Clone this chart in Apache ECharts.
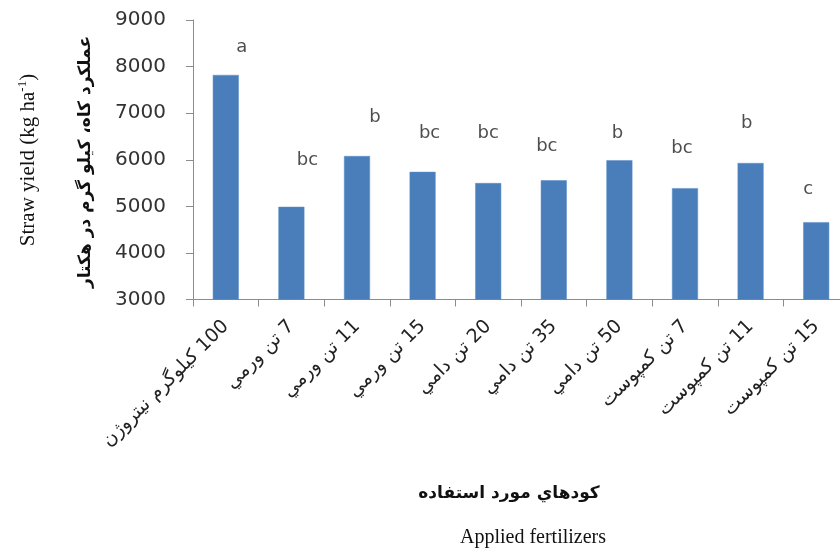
<!DOCTYPE html>
<html>
<head>
<meta charset="utf-8">
<script src="https://cdn.jsdelivr.net/npm/echarts@6/dist/echarts.min.js"></script>
<style>
html,body{margin:0;padding:0;background:#fff;}
#c{width:840px;height:548px;}
</style>
</head>
<body>
<div id="c"></div>
<script>
const RLE = '\u202B', PDF = '\u202C';
const categories = [
  '100 کیلوگرم نیتروژن',
  '7 تن ورمي',
  '11 تن ورمي',
  '15 تن ورمي',
  '20 تن دامي',
  '35 تن دامي',
  '50 تن دامي',
  '7 تن کمپوست',
  '11 تن کمپوست',
  '15 تن کمپوست'
];
const strawYield = [7820, 4990, 6080, 5740, 5500, 5560, 5990, 5390, 5930, 4660];
const letters = ['a', 'bc', 'b', 'bc', 'bc', 'bc', 'b', 'bc', 'b', 'c'];
const letterLevels = [8420, 5990, 6900, 6570, 6570, 6290, 6570, 6250, 6790, 5370];
const yTicks = [3000, 4000, 5000, 6000, 7000, 8000, 9000];
const yTitleFa = 'عملکرد کاه، کیلو گرم در هکتار';
const xTitleFa = 'کودهاي مورد استفاده';
const yTitleEn = 'Straw yield (kg ha';
const xTitleEn = 'Applied fertilizers';

// label horizontal nudges (style only)
const letterDx = [16, 16, 18, 7, 0, -7, -2, -3, -4, -8];

const chart = echarts.init(document.getElementById('c'));
chart.setOption({
  animation: false,
  backgroundColor: '#fff',
  grid: { left: 193, top: 20, width: 656, bottom: 248.5, containLabel: false, outerBoundsMode: 'none' },
  xAxis: {
    type: 'category',
    data: categories,
    boundaryGap: true,
    axisLine: { lineStyle: { color: '#8c8c8c', width: 1 } },
    axisTick: { show: true, length: 7, alignWithLabel: false, lineStyle: { color: '#8c8c8c' } },
    axisLabel: {
      rotate: 45, margin: 24, interval: 0,
      fontFamily: 'DejaVu Sans', fontSize: 19, color: '#222',
      formatter: v => RLE + v + PDF
    }
  },
  yAxis: {
    type: 'value',
    min: yTicks[0], max: yTicks[yTicks.length - 1], interval: 1000,
    axisLine: { show: true, lineStyle: { color: '#8c8c8c', width: 1 } },
    axisTick: { show: true, length: 7, lineStyle: { color: '#8c8c8c' } },
    splitLine: { show: false },
    axisLabel: { margin: 27, fontFamily: 'DejaVu Sans', fontSize: 20, color: '#333', formatter: v => String(v) }
  },
  series: [
    {
      type: 'bar',
      data: strawYield,
      barWidth: 26,
      itemStyle: { color: '#4a7ebb', borderColor: '#5b8cc8', borderWidth: 0.5 }
    },
    {
      type: 'scatter',
      data: letterLevels.map((v, i) => ({
        value: [i, v],
        label: { show: true, formatter: letters[i], offset: [letterDx[i], 0] }
      })),
      symbolSize: 1,
      itemStyle: { color: 'rgba(0,0,0,0)' },
      label: {
        show: true, position: 'inside',
        fontFamily: 'DejaVu Sans', fontSize: 18, color: '#222'
      },
      silent: true
    }
  ],
  graphic: [
    {
      type: 'text', x: 28, y: 160, rotation: Math.PI / 2,
      style: {
        text: '{n|' + yTitleEn + '}{s|-1}{n|)}',
        align: 'center', verticalAlign: 'middle',
        rich: {
          n: { fontFamily: 'Liberation Serif', fontSize: 21, fill: '#111' },
          s: { fontFamily: 'Liberation Serif', fontSize: 13, fill: '#111', padding: [0, 0, 11, 0] }
        }
      }
    },
    {
      type: 'text', x: 86, y: 162, rotation: Math.PI / 2,
      style: {
        text: yTitleFa, align: 'center', verticalAlign: 'middle',
        fontFamily: 'DejaVu Sans', fontWeight: 'bold', fontSize: 17, fill: '#111'
      }
    },
    {
      type: 'text', x: 509, y: 494,
      style: {
        text: xTitleFa, align: 'center', verticalAlign: 'middle',
        fontFamily: 'DejaVu Sans', fontWeight: 'bold', fontSize: 17, fill: '#111'
      }
    },
    {
      type: 'text', x: 533, y: 538,
      style: {
        text: xTitleEn, align: 'center', verticalAlign: 'middle',
        fontFamily: 'Liberation Serif', fontSize: 20, fill: '#111'
      }
    }
  ]
});
</script>
</body>
</html>
